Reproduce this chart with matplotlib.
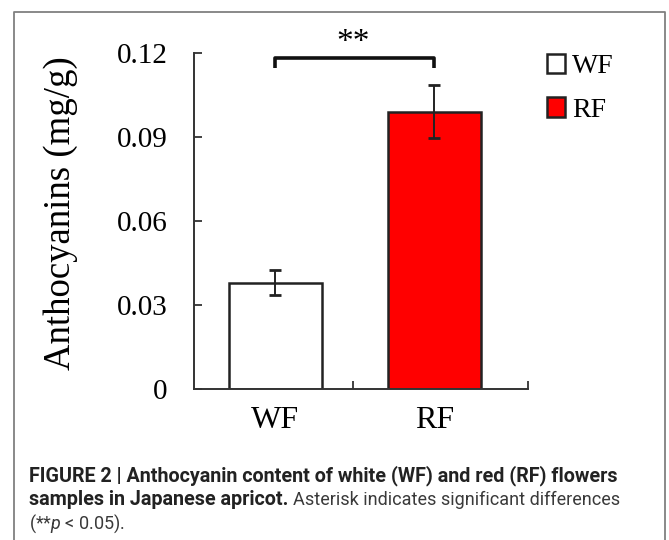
import matplotlib
matplotlib.use("Agg")
import matplotlib.pyplot as plt
from matplotlib.lines import Line2D

groups = ["WF", "RF"]
values = [0.038, 0.099]
errors = [0.0045, 0.0095]
colors = ["white", "#ff0000"]
yticks = [0, 0.03, 0.06, 0.09, 0.12]
ytick_labels = ["0", "0.03", "0.06", "0.09", "0.12"]
signif = "**"

W, H = 669, 540
plt.rcParams["mathtext.fontset"] = "custom"
plt.rcParams["mathtext.it"] = "Roboto:italic:normal"
plt.rcParams["mathtext.rm"] = "Roboto"

fig = plt.figure(figsize=(W / 100, H / 100), dpi=100)
fig.patch.set_facecolor("white")

# frame round the figure panel
fx = lambda px: px / W
fy = lambda py: 1 - py / H
fig.add_artist(Line2D([fx(14), fx(14), fx(665), fx(665)], [0, fy(12), fy(12), 0],
                      color="#808080", lw=1.3, transform=fig.transFigure))

ax = fig.add_axes([fx(194), fy(389), (528 - 194) / W, (389 - 53) / H])
serif = "Liberation Serif"

x = [0, 1]
bars = ax.bar(x, values, width=0.585, color=colors, edgecolor="#222222", linewidth=1.8)
ax.errorbar(x, values, yerr=errors, fmt="none", ecolor="#222222",
            elinewidth=1.4, capsize=4.5, capthick=2)

ax.set_xlim(-0.51, 1.59)
ax.set_ylim(0, 0.12)
for s in ["top", "right"]:
    ax.spines[s].set_visible(False)
for s in ["left", "bottom"]:
    ax.spines[s].set_color("#333333")
    ax.spines[s].set_linewidth(1.4)

ax.set_yticks(yticks)
ax.set_yticklabels(ytick_labels, fontfamily=serif, fontsize=21)
ax.tick_params(axis="y", direction="in", length=6, width=1.3, color="#333333", pad=19)

ax.set_xticks(x)
ax.set_xticklabels(groups, fontfamily=serif, fontsize=23)
ax.tick_params(axis="x", which="major", length=0, pad=12)
ax.set_xticks([0.49, 1.59], minor=True)
ax.tick_params(axis="x", which="minor", direction="in", length=6, width=1.3, color="#333333")

# significance bracket
ax.plot([0, 0, 1, 1], [0.1145, 0.1182, 0.1182, 0.1145], color="#111111",
        lw=2.6, clip_on=False, solid_capstyle="butt")
ax.text(0.49, 0.1238, signif, ha="center", va="center", fontfamily=serif,
        fontsize=24, clip_on=False)

fig.text(fx(61), fy(213), "Anthocyanins (mg/g)", rotation=90, ha="center",
         va="center", fontfamily=serif, fontsize=26.5)

leg = fig.legend(bars, groups, loc="upper left", bbox_to_anchor=(fx(533), fy(40)),
                 frameon=False, prop={"family": serif, "size": 20},
                 handlelength=0.65, handleheight=0.7, handletextpad=0.25,
                 labelspacing=0.65, borderpad=0)

# caption
cap = ["Roboto"]
fs = 14.2
fs_reg = 13.0
t1 = fig.text(fx(29), fy(481), "FIGURE 2 | Anthocyanin content of white (WF) and red (RF) flowers",
              fontfamily=cap, fontweight="bold", fontsize=fs, color="#222222", va="baseline")
t2 = fig.text(fx(29), fy(505), "samples in Japanese apricot.",
              fontfamily=cap, fontweight="bold", fontsize=fs, color="#222222", va="baseline")
fig.canvas.draw()
bb = t2.get_window_extent()
fig.text(bb.x1 / W + fx(5), fy(505), "Asterisk indicates significant differences",
         fontfamily=cap, fontsize=fs_reg, color="#3a3a3a", va="baseline")
fig.text(fx(29), fy(529), "(**$p$ < 0.05).",
         fontfamily=cap, fontsize=fs_reg, color="#3a3a3a", va="baseline")

fig.savefig("out.png", dpi=100)
